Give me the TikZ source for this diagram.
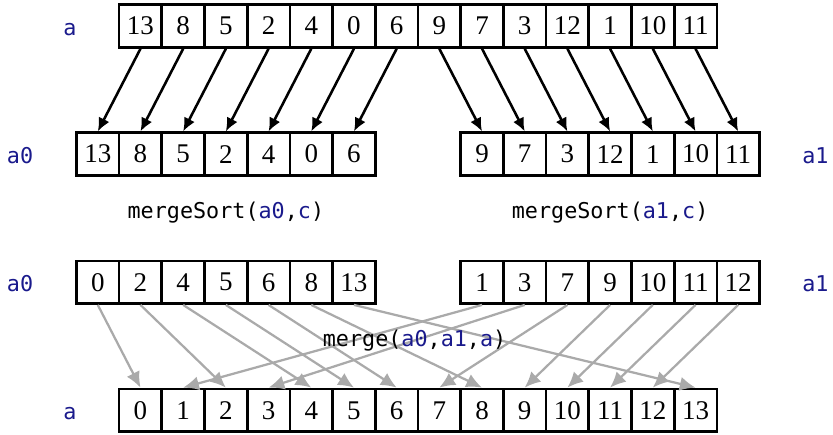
\documentclass[tikz,border=0pt]{standalone}
\usepackage{fontspec}
\setmainfont{Liberation Serif}
\setmonofont{DejaVu Sans Mono}
\usetikzlibrary{arrows.meta}
\definecolor{varBlue}{HTML}{1A1A8C}
\definecolor{mergeGray}{HTML}{AAAAAA}
\newcommand{\vname}[1]{\textcolor{varBlue}{#1}}

\begin{document}
\begin{tikzpicture}[
    >={Latex[length=9pt, width=8pt]},
    cell/.style={
        draw, line width=1.8pt, minimum width=1cm, minimum height=1cm,
        inner sep=0pt, font=\fontsize{18}{20}\selectfont
    },
    arrLabel/.style={anchor=base, text=varBlue, font=\ttfamily\fontsize{14.5}{17}\selectfont},
    callLabel/.style={anchor=base, font=\ttfamily\fontsize{14.5}{17}\selectfont},
    split/.style={->, line width=1.7pt},
    mergeArrow/.style={-{Latex[length=10.5pt, width=9.5pt]}, line width=1.5pt, draw=mergeGray, fill=mergeGray}
]
\useasboundingbox (-2.79, 0.61) rectangle (16.72, -9.555);

% input array and its two halves
\foreach \v [count=\i from 0] in {13,8,5,2,4,0,6,9,7,3,12,1,10,11}
    \node[cell] (top\i) at (\i+0.5, 0) {\v};
\foreach \v [count=\i from 0] in {13,8,5,2,4,0,6}
    \node[cell] (lo\i) at (\i-0.5, -3) {\v};
\foreach \v [count=\i from 0] in {9,7,3,12,1,10,11}
    \node[cell] (hi\i) at (\i+8.5, -3) {\v};

% sorted halves and merged output
\foreach \v [count=\i from 0] in {0,2,4,5,6,8,13}
    \node[cell] (slo\i) at (\i-0.5, -6) {\v};
\foreach \v [count=\i from 0] in {1,3,7,9,10,11,12}
    \node[cell] (shi\i) at (\i+8.5, -6) {\v};
\foreach \i in {0,...,13}
    \node[cell] (bot\i) at (\i+0.5, -9) {\i};

\node[arrLabel] (aTop) at (-1.15, -0.22) {a};
\node[arrLabel] (aLo) at (-2.32, -3.22) {a0};
\node[arrLabel] (aHi) at (16.31, -3.22) {a1};
\node[arrLabel] (sLo) at (-2.32, -6.22) {a0};
\node[arrLabel] (sHi) at (16.31, -6.22) {a1};
\node[arrLabel] (aBot) at (-1.15, -9.22) {a};

\node[callLabel] (sortLo) at (2.5, -4.5) {mergeSort(\vname{a0},\vname{c})};
\node[callLabel] (sortHi) at (11.5, -4.5) {mergeSort(\vname{a1},\vname{c})};

\foreach \i in {0,...,6} {
    \pgfmathtruncatemacro{\j}{\i+7}
    \draw[split] (top\i.south) -- (lo\i.north);
    \draw[split] (top\j.south) -- (hi\i.north);
}

\foreach \v [count=\i from 0] in {0,2,4,5,6,8,13}
    \draw[mergeArrow] (slo\i.south) -- (bot\v.north);
\foreach \v [count=\i from 0] in {1,3,7,9,10,11,12}
    \draw[mergeArrow] (shi\i.south) -- (bot\v.north);

\node[callLabel] (mergeCall) at (6.92, -7.51) {merge(\vname{a0},\vname{a1},\vname{a})};

\end{tikzpicture}
\end{document}
